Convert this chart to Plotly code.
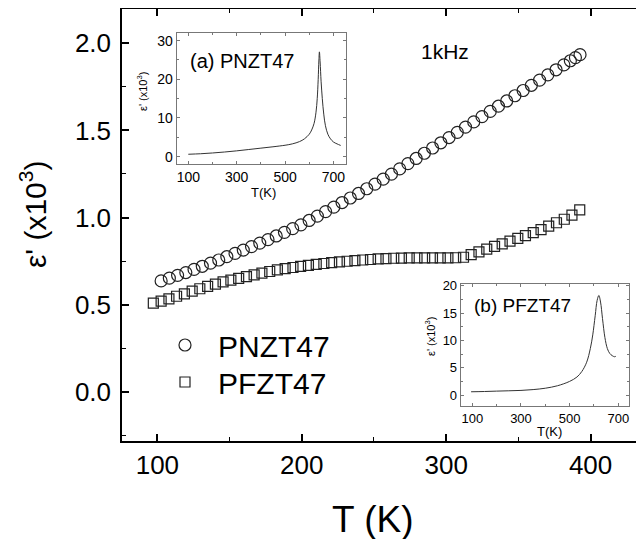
import plotly.graph_objects as go

# ---- main data ----
pnzt_T = [102.6, 108.3, 114.0, 119.7, 125.4, 131.1, 136.8, 142.5, 148.1, 153.8,
          159.5, 165.2, 170.9, 176.6, 182.3, 188.0, 193.7, 199.4, 205.1, 210.8,
          216.5, 222.2, 227.9, 233.6, 239.3, 245.0, 250.7, 256.4, 262.1, 267.8,
          273.5, 279.2, 284.9, 290.6, 296.3, 302.0, 307.7, 313.4, 319.1, 324.8,
          330.5, 336.2, 341.9, 347.6, 353.3, 359.0, 364.7, 370.4, 376.1, 381.5,
          386.0, 389.5, 392.7]
pnzt_eps = [0.636, 0.652, 0.668, 0.684, 0.702, 0.720, 0.738, 0.756, 0.775, 0.794,
            0.813, 0.833, 0.853, 0.873, 0.894, 0.915, 0.936, 0.958, 0.983, 1.008,
            1.034, 1.060, 1.086, 1.112, 1.138, 1.165, 1.192, 1.220, 1.249, 1.279,
            1.309, 1.339, 1.369, 1.399, 1.429, 1.459, 1.489, 1.519, 1.549, 1.579,
            1.609, 1.639, 1.669, 1.699, 1.729, 1.759, 1.789, 1.819, 1.848, 1.876,
            1.900, 1.918, 1.935]

pfzt_T = [97.2, 102.6, 108.0, 113.3, 118.7, 124.1, 129.4, 134.8, 140.2, 145.5,
          150.9, 156.3, 161.7, 167.0, 172.4, 177.8, 183.1, 188.5, 193.9, 199.2,
          204.6, 210.0, 215.3, 220.7, 226.1, 231.4, 236.8, 242.2, 247.6, 252.9,
          258.3, 263.7, 269.0, 274.4, 279.8, 285.1, 290.5, 295.9, 301.2, 306.6,
          312.0, 317.3, 322.7, 328.1, 333.5, 338.8, 344.2, 349.6, 354.9, 360.3,
          365.7, 371.0, 376.4, 381.8, 387.1, 392.5]
pfzt_eps = [0.508, 0.520, 0.533, 0.548, 0.562, 0.577, 0.591, 0.605, 0.618, 0.630,
            0.641, 0.651, 0.661, 0.671, 0.681, 0.690, 0.699, 0.706, 0.713, 0.719,
            0.725, 0.731, 0.736, 0.741, 0.745, 0.749, 0.753, 0.756, 0.759, 0.762,
            0.764, 0.766, 0.767, 0.768, 0.768, 0.768, 0.768, 0.768, 0.768, 0.769,
            0.772, 0.787, 0.803, 0.819, 0.834, 0.849, 0.864, 0.880, 0.896, 0.913,
            0.930, 0.950, 0.970, 0.990, 1.014, 1.044]

# ---- inset (a) PNZT47 ----
ina_T = [100, 150, 200, 250, 300, 350, 400, 450, 500, 530, 560, 580, 600, 610,
         620, 628, 633, 637, 640, 642, 645, 649, 654, 660, 667, 677, 688, 700,
         715, 730]
ina_eps = [0.62, 0.75, 0.95, 1.2, 1.5, 1.85, 2.2, 2.55, 2.95, 3.3, 3.9, 4.6, 5.8, 6.9,
           8.6, 11.5, 15.0, 20.0, 25.0, 27.1, 24.5, 19.5, 15.0, 11.0, 8.0, 5.8, 4.6, 3.8,
           3.3, 2.9]

# ---- inset (b) PFZT47 ----
inb_T = [95, 150, 200, 250, 300, 350, 400, 450, 500, 530, 550, 570, 585, 595,
         605, 613, 620, 627, 635, 645, 655, 665, 675, 685, 690]
inb_eps = [0.6, 0.65, 0.72, 0.78, 0.85, 1.0, 1.25, 1.7, 2.5, 3.3, 4.3, 6.0, 8.5, 11.0,
           14.5, 17.3, 18.2, 17.0, 14.0, 10.5, 8.5, 7.6, 7.2, 7.0, 7.1]

FONT = "Arial, Liberation Sans, sans-serif"
OFF = 8  # page body margin
W, H = 644 - OFF, 539 - OFF
ML, MR, MT, MB = 114, 0, 1, 98
PW, PH = W - ML - MR, H - MT - MB


def px(x):  # reference page pixel -> paper
    return (x - OFF - ML) / PW


def py(y):
    return (H - MB - (y - OFF)) / PH


fig = go.Figure()

fig.add_trace(go.Scatter(
    x=pnzt_T, y=pnzt_eps, mode="markers", name="PNZT47", legend="legend",
    marker=dict(symbol="circle-open", size=12, color="#222", line=dict(width=1.2, color="#222")),
    xaxis="x", yaxis="y"))
fig.add_trace(go.Scatter(
    x=pfzt_T, y=pfzt_eps, mode="markers", name="PFZT47", legend="legend2",
    marker=dict(symbol="square-open", size=10, color="#222", line=dict(width=1.2, color="#222")),
    xaxis="x", yaxis="y"))
fig.add_trace(go.Scatter(
    x=ina_T, y=ina_eps, mode="lines", showlegend=False,
    line=dict(color="#333", width=1, shape="spline"), xaxis="x2", yaxis="y2"))
fig.add_trace(go.Scatter(
    x=inb_T, y=inb_eps, mode="lines", showlegend=False,
    line=dict(color="#333", width=1, shape="spline"), xaxis="x3", yaxis="y3"))

main_ax = dict(showline=True, linecolor="black", linewidth=1.5, mirror="ticks",
               ticks="inside", ticklen=7, tickwidth=1.5, tickcolor="black",
               showgrid=False, zeroline=False, automargin=False,
               tickfont=dict(family=FONT, size=26, color="black"))

inset_ax = dict(showline=True, linecolor="#777", linewidth=1, mirror="ticks",
                ticks="inside", ticklen=3, tickwidth=1, tickcolor="#777",
                showgrid=False, zeroline=False, automargin=False)

leg = dict(xanchor="left", yanchor="middle", itemwidth=56,
           font=dict(family=FONT, size=30, color="black"),
           bgcolor="rgba(0,0,0,0)", borderwidth=0)

fig.update_layout(
    width=W, height=H,
    margin=dict(l=ML, r=MR, t=MT, b=MB, autoexpand=False),
    paper_bgcolor="white", plot_bgcolor="white",
    font=dict(family=FONT, color="black"),
    xaxis=dict(range=[75.5, 437], tickvals=[100, 200, 300, 400],
               minor=dict(dtick=50, tick0=0, ticks="inside", ticklen=4, tickcolor="black", tickwidth=1.2),
               **main_ax),
    yaxis=dict(range=[-0.283, 2.197], tickvals=[0.0, 0.5, 1.0, 1.5, 2.0],
               ticktext=["0.0", "0.5", "1.0", "1.5", "2.0"], ticklabelstandoff=4,
               minor=dict(dtick=0.25, tick0=0, ticks="inside", ticklen=4, tickcolor="black", tickwidth=1.2),
               **main_ax),
    xaxis2=dict(domain=[px(176.7), px(346)], anchor="y2", range=[52, 752],
                tickvals=[100, 300, 500, 700],
                minor=dict(dtick=100, tick0=0, ticks="inside", ticklen=2, tickcolor="#777"),
                tickfont=dict(family=FONT, size=14, color="black"), **inset_ax),
    yaxis2=dict(domain=[py(164), py(33.3)], anchor="x2", range=[-1.9, 31.9],
                tickvals=[0, 10, 20, 30],
                minor=dict(dtick=5, tick0=0, ticks="inside", ticklen=2, tickcolor="#777"),
                tickfont=dict(family=FONT, size=14, color="black"), **inset_ax),
    xaxis3=dict(domain=[px(460.7), px(629.3)], anchor="y3", range=[52.3, 745.2],
                tickvals=[100, 300, 500, 700],
                minor=dict(dtick=100, tick0=0, ticks="inside", ticklen=2, tickcolor="#777"),
                tickfont=dict(family=FONT, size=13, color="black"), **inset_ax),
    yaxis3=dict(domain=[py(406), py(284)], anchor="x3", range=[-2, 20.3],
                tickvals=[0, 5, 10, 15, 20],
                minor=dict(dtick=2.5, tick0=0, ticks="inside", ticklen=2, tickcolor="#777"),
                tickfont=dict(family=FONT, size=13, color="black"), **inset_ax),
    legend=dict(x=px(152), y=py(345), **leg),
    legend2=dict(x=px(152), y=py(382), **leg),
    showlegend=True,
)

ann = [
    dict(text="T (K)", x=px(373), y=py(519), font=dict(size=37)),
    dict(text="ε' (x10<sup>3</sup>)", x=px(33), y=py(215), textangle=-90, font=dict(size=30)),
    dict(text="1kHz", x=px(445), y=py(51.7), font=dict(size=21)),
    dict(text="(a) PNZT47", x=px(188.3), y=py(60.7), xanchor="left", font=dict(size=20)),
    dict(text="ε' (x10<sup>3</sup>)", x=px(142), y=py(92), textangle=-90, font=dict(size=11)),
    dict(text="T(K)", x=px(263), y=py(192), font=dict(size=13)),
    dict(text="(b) PFZT47", x=px(471.7), y=py(305), xanchor="left", font=dict(size=19)),
    dict(text="ε' (x10<sup>3</sup>)", x=px(430), y=py(337), textangle=-90, font=dict(size=11)),
    dict(text="T(K)", x=px(549), y=py(431), font=dict(size=13)),
]
for a in ann:
    a.setdefault("xanchor", "center")
    a.update(xref="paper", yref="paper", showarrow=False, yanchor="middle")
    a["font"] = dict(family=FONT, color="black", **a["font"])
    fig.add_annotation(**a)

fig.write_html("out.html")
